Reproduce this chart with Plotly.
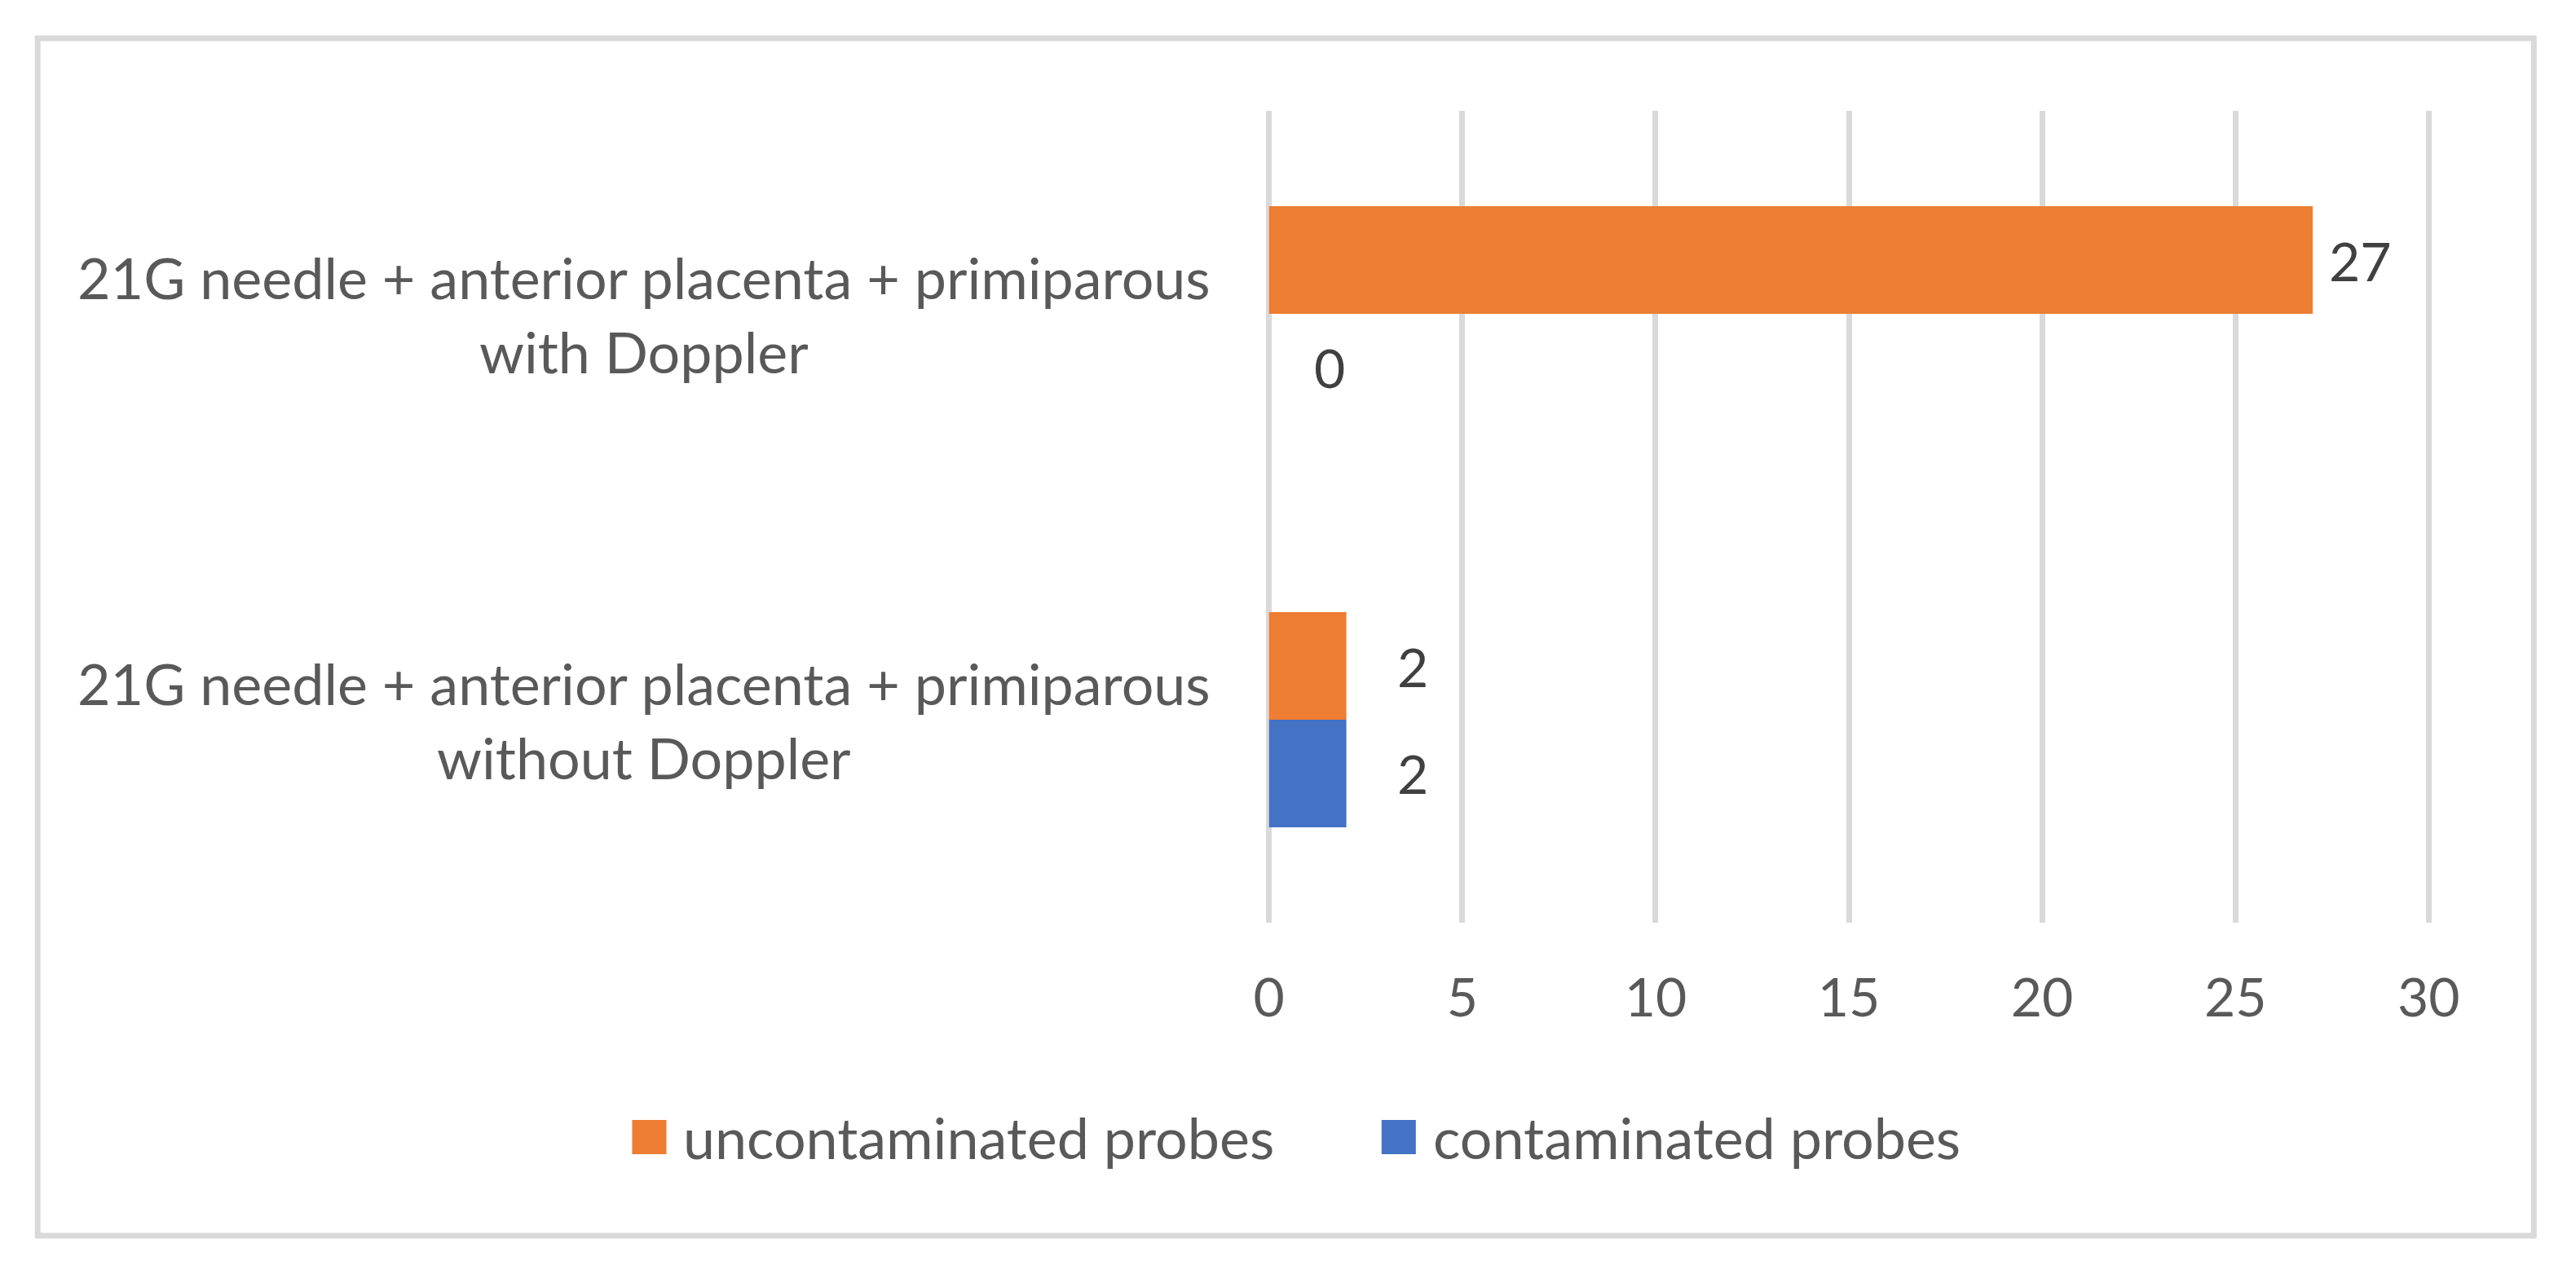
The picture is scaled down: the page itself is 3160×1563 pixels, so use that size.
import plotly.graph_objects as go

# data
categories = [
    "21G needle + anterior placenta + primiparous<br>with Doppler",
    "21G needle + anterior placenta + primiparous<br>without Doppler",
]
series_names = ["uncontaminated probes", "contaminated probes"]
uncontaminated = [27, 2]
contaminated = [0, 2]
series_colors = ["#ED7D31", "#4472C4"]
x_ticks = [0, 5, 10, 15, 20, 25, 30]

# layout geometry (page pixels); the page body has an 8px margin
W, H = 3160, 1563
PAGE = 8
X_MIN, X_MAX = -0.1, 30.1
PX0, PX30 = 1557, 2979
scale = (PX30 - PX0) / 30
L = PX0 + X_MIN * scale
R = PX0 + X_MAX * scale
T, B = 136, 1132
BARGAP = 0.47
FONT = "Lato"
FS = 70        # category labels and legend
FS_NUM = 66    # tick and data labels
GREY = "#595959"
LABEL_GREY = "#404040"


def px_x(px):
    return (px - L) / (R - L)


def px_y(py):
    return (B - py) / (B - T)


series_values = [uncontaminated, contaminated]

fig = go.Figure()
for name, vals, color in zip(series_names, series_values, series_colors):
    fig.add_trace(go.Bar(
        y=categories, x=vals, name=name, orientation="h",
        marker=dict(color=color, line=dict(width=0)),
        showlegend=False, hoverinfo="x+name",
    ))

# half a bar height, in pixels, to put data labels on each bar of a group
band = (B - T) / len(categories)
bar_h = band * (1 - BARGAP) / len(series_names)
label_gap = {27: 18, 0: 53, 2: 60}

annotations = []
for si, vals in enumerate(series_values):
    yshift = bar_h / 2 if si == 0 else -bar_h / 2
    for cat, v in zip(categories, vals):
        annotations.append(dict(
            x=v, y=cat, xref="x", yref="y", text=str(v), showarrow=False,
            xanchor="left", yanchor="middle", xshift=label_gap.get(v, 18), yshift=yshift,
            font=dict(family=FONT, size=FS_NUM, color=LABEL_GREY),
        ))

# category labels, centred lines like the original
for cat in categories:
    annotations.append(dict(
        x=px_x(1487), y=cat, xref="paper", yref="y", text=cat, showarrow=False,
        xanchor="right", yanchor="middle", align="center",
        font=dict(family=FONT, size=FS, color=GREY),
    ))

# legend with big square swatches
shapes = []
legend_x = [776, 1695]
sw = 42
ly = 1395
for name, color, lx in zip(series_names, series_colors, legend_x):
    shapes.append(dict(
        type="rect", xref="paper", yref="paper",
        x0=px_x(lx), x1=px_x(lx + sw), y0=px_y(ly + sw / 2), y1=px_y(ly - sw / 2),
        fillcolor=color, line=dict(width=0),
    ))
    annotations.append(dict(
        x=px_x(lx + sw + 19), y=px_y(ly), xref="paper", yref="paper", text=name,
        showarrow=False, xanchor="left", yanchor="middle",
        font=dict(family=FONT, size=FS, color=GREY),
    ))

# outer chart border
shapes.append(dict(
    type="rect", xref="paper", yref="paper",
    x0=px_x(47), x1=px_x(3108), y0=px_y(1516), y1=px_y(47),
    line=dict(color="#D9D9D9", width=7), fillcolor="rgba(0,0,0,0)", layer="below",
))

fig.update_layout(
    width=W - PAGE, height=H - PAGE,
    margin=dict(l=L - PAGE, r=W - R, t=T - PAGE, b=H - B, pad=0),
    paper_bgcolor="white", plot_bgcolor="white",
    barmode="group", bargap=BARGAP, bargroupgap=0,
    font=dict(family=FONT, size=FS, color=GREY),
    xaxis=dict(
        range=[X_MIN, X_MAX], tickvals=x_ticks, showgrid=True, gridcolor="#D9D9D9", gridwidth=7,
        zeroline=False, showline=False, ticks="", ticklabelstandoff=48,
        tickfont=dict(family=FONT, size=FS_NUM, color=GREY), fixedrange=True,
    ),
    yaxis=dict(
        autorange="reversed", showticklabels=False, showgrid=False, zeroline=False,
        showline=False, ticks="", fixedrange=True,
    ),
    annotations=annotations, shapes=shapes,
)

fig.write_html("out.html")
